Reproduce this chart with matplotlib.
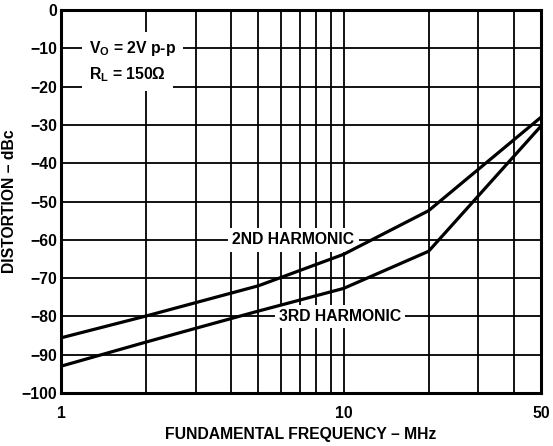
import numpy as np
import matplotlib
matplotlib.use("Agg")
import matplotlib.pyplot as plt
from matplotlib.ticker import FixedLocator, NullFormatter

plt.rcParams['font.family'] = ['Liberation Sans', 'DejaVu Sans']
plt.rcParams['font.weight'] = 'bold'
plt.rcParams['mathtext.fontset'] = 'custom'
plt.rcParams['mathtext.rm'] = 'Liberation Sans:bold'
plt.rcParams['mathtext.bf'] = 'Liberation Sans:bold'
plt.rcParams['mathtext.it'] = 'Liberation Sans:bold'

# data
freq_2nd = [1, 2, 3, 5, 10, 20, 50]
dist_2nd = [-85.6, -79.9, -76.4, -72.0, -63.8, -52.4, -28.0]
freq_3rd = [1, 2, 3, 5, 10, 20, 50]
dist_3rd = [-93.0, -86.7, -83.1, -78.6, -72.7, -63.0, -30.3]

xmajor = [1, 10, 50]
xminor = [2, 3, 4, 5, 6, 7, 8, 9, 20, 30, 40]
yticks = list(range(-100, 1, 10))

fs = 11.3

fig = plt.figure(figsize=(5.53, 4.46), dpi=100)
ax = fig.add_axes([61/553, 1-393/446, 480/553, 383/446])

ax.set_xscale('log')
ax.set_xlim(1, 50)
ax.set_ylim(-100, 0)

ax.xaxis.set_major_locator(FixedLocator(xmajor))
ax.xaxis.set_minor_locator(FixedLocator(xminor))
ax.xaxis.set_minor_formatter(NullFormatter())
ax.set_xticklabels([str(v) for v in xmajor])
ax.set_yticks(yticks)
ax.set_yticklabels(['0' if v == 0 else '\u2212%d' % -v for v in yticks])

ax.set_axisbelow(True)
ax.grid(True, which='both', color='black', linewidth=1.3)
ax.tick_params(which='both', length=0, labelsize=fs)
ax.tick_params(axis='x', pad=9)
ax.tick_params(axis='y', pad=3)
for s in ax.spines.values():
    s.set_linewidth(2.2)

ax.plot(freq_2nd, dist_2nd, color='black', linewidth=2.3, zorder=4)
ax.plot(freq_3rd, dist_3rd, color='black', linewidth=2.3, zorder=4)

box = dict(facecolor='white', edgecolor='none', pad=3)
ax.text(1.26, -10, r'$\mathbf{V_O}$ = 2V p-p', fontsize=fs, va='center', ha='left',
        bbox=dict(facecolor='white', edgecolor='none', pad=5), zorder=3)
ax.text(1.26, -17.0, r'$\mathbf{R_L}$ = 150Ω', fontsize=fs, va='center', ha='left',
        bbox=dict(facecolor='white', edgecolor='none', pad=5), zorder=3)
ax.text(6.65, -60, '2ND HARMONIC', fontsize=fs, va='center', ha='center', bbox=box, zorder=3)
ax.text(9.72, -80, '3RD HARMONIC', fontsize=fs, va='center', ha='center', bbox=box, zorder=3)

ax.set_xlabel('FUNDAMENTAL FREQUENCY \u2013 MHz', fontsize=fs, fontweight='bold', labelpad=5)
ax.set_ylabel('DISTORTION \u2013 dBc', fontsize=fs, fontweight='bold', labelpad=3)

fig.savefig('out.png', dpi=100)
